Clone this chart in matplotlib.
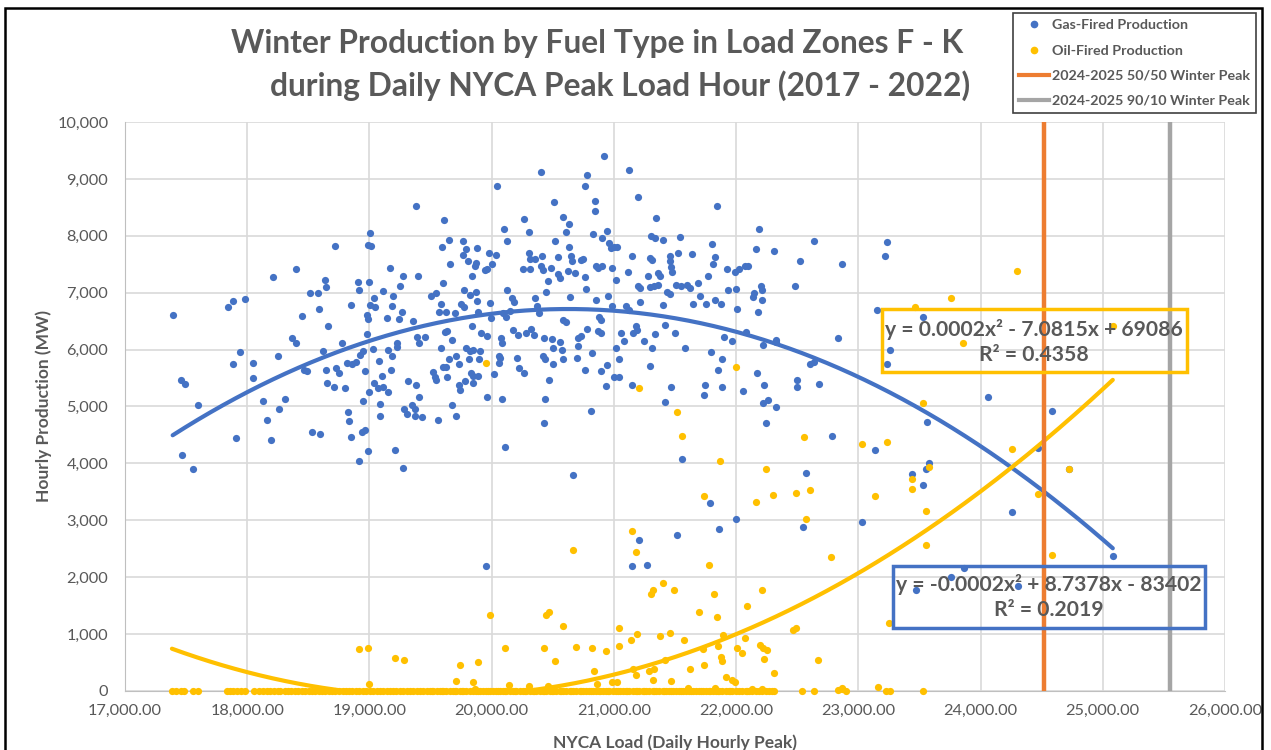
import numpy as np
import matplotlib.pyplot as plt
from matplotlib.patches import Rectangle
from matplotlib.lines import Line2D
from matplotlib.ticker import FuncFormatter, MultipleLocator

plt.rcParams['font.family'] = ['Lato', 'DejaVu Sans']

# gas-fired production (MW) vs NYCA daily peak load (MW)
gas_load = [17390, 17455, 17490, 17594, 17466, 17556, 17842, 17880, 17978, 17940,
            17880, 18050, 18050, 17908, 18131, 18161, 18194, 18213, 18250, 18258,
            18310, 18397, 18365, 18395, 18449, 18465, 18490, 18515, 18575, 18589,
            18635, 18646, 18659, 18526, 18597, 18621, 18646, 18649, 18706, 18722,
            18727, 18747, 18779, 18804, 18826, 18831, 18853, 18853, 18817, 18860,
            18893, 18907, 18915, 18918, 18935, 18962, 18948, 18965, 18921, 18948,
            18976, 18986, 18980, 18986, 18992, 19014, 19008, 18997, 18997, 19008,
            19046, 19036, 19033, 19038, 19079, 19074, 19112, 19084, 19090, 19106,
            19114, 19144, 19153, 19155, 19166, 19177, 19183, 19191, 19188, 19207,
            19229, 19223, 19240, 19251, 19270, 19275, 19281, 19305, 19278, 19319,
            19352, 19371, 19360, 19384, 19387, 19406, 19395, 19384, 19403, 19373,
            19433, 19452, 19507, 19548, 19520, 19534, 19548, 19561, 19586, 19589,
            19591, 19600, 19569, 19629, 19610, 19616, 19632, 19602, 19629, 19638,
            19651, 19654, 19657, 19676, 19676, 19700, 19711, 19733, 19711, 19730,
            19738, 19747, 19774, 19763, 19793, 19766, 19771, 19779, 19793, 19820,
            19847, 19804, 19861, 19875, 19812, 19820, 19869, 19828, 19847, 19839,
            19842, 19847, 19880, 19883, 19888, 19891, 19905, 19897, 19910, 19946,
            19965, 19962, 19965, 19978, 19984, 19992, 20000, 20016, 20033, 20041,
            20104, 20126, 20112, 20077, 20082, 20057, 20071, 20082, 20057, 20090,
            20117, 20153, 20123, 20167, 20186, 20172, 20216, 20210, 20227, 20268,
            20260, 20317, 20268, 20309, 20303, 20317, 20355, 20281, 20320, 20358,
            20350, 20369, 20385, 20404, 20410, 20404, 20418, 20423, 20440, 20432,
            20437, 20426, 20445, 20459, 20473, 20486, 20497, 20505, 20500, 20511,
            20522, 20541, 20541, 20563, 20563, 20582, 20609, 20634, 20574, 20582,
            20582, 20609, 20634, 20648, 20656, 20639, 20623, 20683, 20667, 20697,
            20708, 20732, 20708, 20732, 20746, 20762, 20776, 20760, 20765, 20768,
            20781, 20809, 20825, 20822, 20844, 20844, 20850, 20871, 20850, 20877,
            20891, 20866, 20891, 20891, 20904, 20940, 20904, 20918, 20932, 20940,
            20954, 20959, 20978, 21000, 21027, 20981, 20986, 21000, 21040, 21019,
            21019, 21040, 21060, 21080, 21123, 21100, 21120, 21117, 21145, 21145,
            21156, 21189, 21183, 21194, 21210, 21200, 21210, 21243, 21279, 21298,
            21314, 21292, 21325, 21361, 21292, 21306, 21333, 21314, 21333, 21344,
            21361, 21374, 21399, 21402, 21415, 21421, 21437, 21462, 21456, 21462,
            21470, 21478, 21470, 21497, 21505, 21527, 21538, 21560, 21579, 21552,
            21598, 21620, 21639, 21648, 21689, 21708, 21735, 21746, 21751, 21770,
            21798, 21806, 21811, 21825, 21825, 21844, 21852, 21880, 21888, 21888,
            21899, 21929, 21934, 21970, 21989, 22024, 21997, 22011, 22055, 22074,
            22096, 22082, 22137, 22150, 22205, 22213, 22159, 22172, 22186, 22178,
            22219, 22227, 22219, 22260, 22323, 22241, 22309, 22323, 22481, 22495,
            22500, 22522, 22210, 22327, 22605, 22640, 22640, 22782, 22837, 22864,
            22681, 23155, 23218, 23237, 23259, 23237, 23526, 23559, 24063, 23136,
            24583, 23577, 23553, 23438, 23528, 24468, 24722, 24256, 23029, 25082,
            23863, 23757, 23470, 24305, 19950, 22575, 21785, 21997, 21515, 21861,
            21204, 21147, 21267, 22548]
gas_mw = [6610, 5470, 5400, 5030, 4150, 3900, 6750, 6850, 6890, 5950,
          5740, 5760, 5500, 4440, 5090, 4770, 4410, 7280, 5880, 4960,
          5140, 7410, 6210, 6110, 6590, 5640, 5630, 6990, 6990, 6710,
          7220, 7100, 6420, 4560, 4520, 5980, 5650, 5420, 5340, 7820,
          5680, 5580, 6120, 5320, 4910, 4750, 6790, 4460, 5760, 5740,
          5780, 7190, 7040, 4050, 4560, 4590, 5100, 5630, 5910, 5980,
          6600, 6540, 6280, 4220, 7840, 7820, 8050, 7180, 5250, 6780,
          6740, 6910, 6010, 5420, 5800, 5330, 5340, 5050, 4840, 5530,
          7030, 6550, 5990, 5250, 7430, 5640, 6760, 6940, 5880, 4240,
          6110, 6040, 6530, 7120, 6660, 7300, 4960, 4860, 3920, 5450,
          5030, 4960, 6500, 8520, 6230, 6120, 7300, 5370, 5170, 4840,
          4820, 6230, 6950, 6990, 5600, 5510, 5460, 4770, 6810, 6020,
          7800, 7170, 6660, 6660, 8270, 6310, 6330, 5690, 5700, 5510,
          5830, 7920, 7500, 6170, 5020, 6650, 5880, 5750, 4840, 5380,
          5290, 6800, 6750, 7900, 7760, 7670, 7050, 5450, 6030, 5970,
          5990, 7550, 7470, 7520, 5830, 6960, 7020, 5590, 5530, 6420,
          7300, 5420, 7790, 6850, 6660, 5530, 5980, 5840, 6300, 7400,
          7410, 6240, 5170, 7700, 6820, 6560, 7500, 5570, 7660, 8870,
          8120, 7910, 4280, 6200, 6120, 5890, 5860, 5140, 5760, 6640,
          6580, 6670, 7050, 6900, 6830, 6340, 6250, 5860, 5670, 5580,
          7420, 7420, 8290, 8060, 7690, 7590, 7590, 6300, 6370, 6900,
          6250, 6760, 6650, 9120, 7640, 7470, 7400, 5890, 5830, 6200,
          5140, 4710, 7020, 7200, 5470, 7440, 6190, 6030, 5740, 8590,
          7900, 7630, 7320, 7260, 6140, 8330, 8060, 8210, 5990, 5830,
          6520, 6490, 7810, 7640, 7560, 6930, 7380, 7350, 3790, 5850,
          6210, 6240, 6060, 7580, 7600, 8880, 9060, 7270, 5650, 7070,
          6360, 4920, 8040, 5940, 8620, 8440, 7470, 7440, 6870, 6580,
          6520, 6330, 6300, 5630, 7960, 8090, 7470, 9400, 5360, 5730,
          6950, 7880, 7790, 7800, 7810, 7440, 6770, 5520, 5520, 7220,
          6030, 5830, 6300, 6150, 9150, 6770, 6700, 7360, 7640, 5370,
          6290, 6350, 6410, 7120, 7090, 8680, 6840, 6150, 7290, 7610,
          7580, 7100, 7120, 7140, 5720, 8000, 7970, 6030, 6280, 8320,
          7340, 7290, 7920, 6790, 6440, 5080, 7010, 6970, 7640, 7550,
          7450, 7360, 5340, 6300, 7140, 7690, 7980, 4070, 6030, 7120,
          7140, 7090, 7680, 6800, 7170, 6940, 5200, 5380, 6800, 7290,
          5960, 7850, 7500, 7620, 6880, 8520, 5640, 6800, 5840, 5340,
          6220, 7420, 7050, 6150, 7360, 7420, 7060, 6720, 5270, 7470,
          7470, 6310, 6930, 6990, 7120, 7040, 7770, 5590, 8120, 6660,
          6080, 5370, 5070, 5120, 4990, 4710, 7740, 6130, 7120, 5470,
          5350, 7560, 6870, 6160, 5750, 5780, 7900, 4490, 6210, 7510,
          5400, 6690, 7640, 7890, 5990, 5750, 6580, 4720, 5160, 4240,
          4920, 4010, 3900, 3810, 3620, 4270, 3900, 3150, 2970, 2370,
          2160, 2000, 1770, 1840, 2200, 3840, 3310, 3020, 2750, 2850,
          2650, 2190, 2220, 2880]

# oil-fired production, days with output above zero
oil_load = [19950, 21205, 21519, 21560, 21866, 22002, 22243, 22556, 23027, 23232,
            23466, 23757, 23858, 24302, 23531, 25082, 24256, 23438, 23438, 23577,
            23134, 23553, 24468, 24722, 23553, 24583, 23250, 22865, 23160, 19985,
            18914, 18988, 19209, 19282, 19741, 19888, 19708, 19849, 18996, 19865,
            21741, 22163, 22305, 22488, 22605, 22570, 21147, 21180, 20668, 21782,
            22774, 21305, 21316, 21400, 21493, 21817, 22212, 20441, 20471, 20586,
            21700, 21842, 22090, 21044, 21185, 21142, 21379, 21460, 21575, 21894,
            22074, 22466, 22494, 20112, 20425, 20692, 20817, 20935, 21038, 20520,
            20839, 21158, 21180, 21289, 21330, 21316, 21417, 21469, 21624, 21741,
            21725, 21850, 21880, 21888, 22005, 22052, 22193, 22223, 22256, 22226,
            22313, 22673, 21918, 21965, 21992, 20981, 21022, 20864, 20144, 20308,
            20463, 21608, 21826, 22837, 22864, 22128, 22212]
oil_mw = [5760, 5330, 4900, 4480, 4050, 5690, 3910, 4470, 4340, 4370,
          6740, 6900, 6120, 7380, 5070, 6410, 4250, 3720, 3550, 3940,
          3430, 3160, 3460, 3900, 2570, 2390, 1190, 50, 70, 1340,
          740, 760, 580, 550, 460, 510, 180, 150, 120, 30,
          3420, 3330, 3440, 3480, 3530, 3030, 2820, 2440, 2480, 2220,
          2350, 1700, 1780, 1890, 1780, 1700, 1780, 1340, 1380, 1140,
          1380, 1300, 1490, 1110, 1010, 890, 960, 1020, 890, 990,
          940, 1070, 1110, 760, 760, 780, 760, 710, 790, 530,
          360, 390, 280, 360, 390, 200, 540, 180, 390, 450,
          730, 790, 600, 530, 750, 660, 810, 750, 720, 570,
          310, 540, 240, 190, 150, 150, 150, 120, 110, 80,
          80, 60, 60, 20, 40, 40, 40]

# oil-fired production, days with zero output (load values only)
oil_zero_load = [17384, 17420, 17458, 17483, 17556, 17597, 17834, 17860, 17883, 17916,
                 17948, 17981, 18055, 18095, 18130, 18158, 18190, 18215, 18248, 18272,
                 18305, 18330, 18362, 18390, 18415, 18447, 18470, 18502, 18528, 18556,
                 18585, 18610, 18640, 18668, 18695, 18722, 18750, 18781, 18806, 18833,
                 18860, 18892, 18918, 18945, 18972, 19003, 19030, 19058, 19084, 19112,
                 19140, 19166, 19195, 19221, 19250, 19276, 19305, 19330, 19358, 19385,
                 19413, 19440, 19468, 19494, 19522, 19550, 19576, 19604, 19630, 19657,
                 19685, 19712, 19740, 19766, 19793, 19820, 19848, 19874, 19902, 19930,
                 19956, 19984, 20012, 20038, 20066, 20093, 20120, 20148, 20175, 20202,
                 20230, 20256, 20284, 20311, 20338, 20366, 20392, 20420, 20447, 20474,
                 20502, 20528, 20556, 20583, 20610, 20638, 20664, 20692, 20719, 20746,
                 20774, 20800, 20828, 20855, 20882, 20910, 20936, 20964, 20991, 21018,
                 21046, 21072, 21100, 21127, 21154, 21182, 21208, 21236, 21263, 21290,
                 21318, 21344, 21372, 21399, 21426, 21454, 21480, 21508, 21535, 21562,
                 21590, 21616, 21644, 21671, 21698, 21726, 21752, 21780, 21807, 21834,
                 21862, 21888, 21916, 21943, 21970, 21998, 22024, 22052, 22079, 22106,
                 22134, 22160, 22188, 22215, 22242, 22270, 22295, 22313, 22540, 22640,
                 22900, 23225, 23255, 23530, 19510, 19590, 19700, 19760, 19890, 19970,
                 20050, 20110, 20190, 20270, 20350, 20430, 20490, 20570, 20650, 20730,
                 20810, 20890, 20950, 21030, 21110, 21190, 21250, 21330, 21410, 21470,
                 21550, 21630, 21710, 21790, 21850, 21950, 22090]

# polynomial trend lines (Excel labels show rounded x^2 terms)
gas_fit = [-0.00021181, 8.7378, -83402]
oil_fit = [0.00018121, -7.0815, 69086]
gas_eq = 'y = -0.0002x\u00b2 + 8.7378x - 83402\nR\u00b2 = 0.2019'
oil_eq = 'y = 0.0002x\u00b2 - 7.0815x + 69086\nR\u00b2 = 0.4358'

peak_5050 = 24520
peak_9010 = 25550

blue = '#4472C4'
gold = '#FFC000'
orange = '#ED7D31'
grey = '#A5A5A5'
txt = '#595959'

W, H = 1271, 750
fig = plt.figure(figsize=(W / 100, H / 100), dpi=100)
ax = fig.add_axes([125 / W, 59 / H, 1100 / W, 569 / H])

oil_x = np.array(oil_load + oil_zero_load)
oil_y = np.array(oil_mw + [0] * len(oil_zero_load))

ax.plot(gas_load, gas_mw, 'o', color=blue, ms=5.2, mec='none', zorder=3)
xg = np.linspace(min(gas_load), max(gas_load), 300)
ax.plot(xg, np.polyval(gas_fit, xg), color=blue, lw=3, zorder=4, solid_capstyle='round')
ax.plot(oil_x, oil_y, 'o', color=gold, ms=5.2, mec='none', zorder=5, clip_on=False)
xo = np.linspace(oil_x.min(), oil_x.max(), 300)
ax.plot(xo, np.polyval(oil_fit, xo), color=gold, lw=3, zorder=6, solid_capstyle='round')

ax.axvline(peak_5050, color=orange, lw=3.2, zorder=7)
ax.axvline(peak_9010, color=grey, lw=3.2, zorder=7)

ax.set_xlim(17000, 26000)
ax.set_ylim(0, 10000)
ax.xaxis.set_major_locator(MultipleLocator(1000))
ax.yaxis.set_major_locator(MultipleLocator(1000))
ax.xaxis.set_major_formatter(FuncFormatter(lambda v, p: f'{v:,.2f}'))
ax.yaxis.set_major_formatter(FuncFormatter(lambda v, p: f'{v:,.0f}'))
ax.grid(color='#D9D9D9', lw=1.2)
ax.set_axisbelow(True)
for s in ['top', 'right']:
    ax.spines[s].set_visible(False)
for s in ['left', 'bottom']:
    ax.spines[s].set_color('#BFBFBF')
ax.tick_params(length=0, labelsize=11.8, colors=txt)
ax.tick_params(axis='y', pad=12)
ax.tick_params(axis='x', pad=9)

ax.set_ylabel('Hourly Production (MW)', fontsize=12.5, fontweight='bold', color=txt, labelpad=4)
ax.set_xlabel('NYCA Load (Daily Hourly Peak)', fontsize=12.5, fontweight='bold', color=txt, labelpad=12)

fig.text(597 / W, 1 - 44 / H, 'Winter Production by Fuel Type in Load Zones F - K',
         ha='center', va='center', fontsize=22.9, fontweight='bold', color=txt)
fig.text(620 / W, 1 - 86 / H, 'during Daily NYCA Peak Load Hour (2017 - 2022)',
         ha='center', va='center', fontsize=22.9, fontweight='bold', color=txt)

# trend line equation boxes
fig.add_artist(Rectangle((882 / W, 1 - 372 / H), 305 / W, 63 / H, transform=fig.transFigure,
                         fill=False, ec=gold, lw=2.5, zorder=10))
fig.text(1034 / W, 1 - 342 / H, oil_eq, ha='center', va='center', fontsize=15.2,
         fontweight='bold', color=txt, linespacing=1.3, zorder=11)
fig.add_artist(Rectangle((893 / W, 1 - 628 / H), 312 / W, 62 / H, transform=fig.transFigure,
                         fill=False, ec=blue, lw=2.5, zorder=10))
fig.text(1049 / W, 1 - 597 / H, gas_eq, ha='center', va='center', fontsize=15.2,
         fontweight='bold', color=txt, linespacing=1.3, zorder=11)

handles = [Line2D([], [], ls='none', marker='o', color=blue, ms=4.5),
           Line2D([], [], ls='none', marker='o', color=gold, ms=4.5),
           Line2D([], [], color=orange, lw=3),
           Line2D([], [], color=grey, lw=3)]
labels = ['Gas-Fired Production', 'Oil-Fired Production',
          '2024-2025 50/50 Winter Peak', '2024-2025 90/10 Winter Peak']
leg = fig.legend(handles, labels, loc='upper left', bbox_to_anchor=(1013 / W, 1 - 13 / H),
                 fontsize=10.3, frameon=True, fancybox=False, edgecolor='#404040',
                 framealpha=1, handlelength=2.1, handletextpad=0.15, labelspacing=0.92,
                 borderpad=0.45, borderaxespad=0)
leg.get_frame().set_linewidth(1.2)
for t in leg.get_texts():
    t.set_color(txt)
    t.set_fontweight('bold')

# outer frame
fig.add_artist(Rectangle((5 / W, -0.05), 1257 / W, 1.05 - 8 / H, transform=fig.transFigure,
                         fill=False, ec='black', lw=1.8))

fig.savefig('out.png', dpi=100)
